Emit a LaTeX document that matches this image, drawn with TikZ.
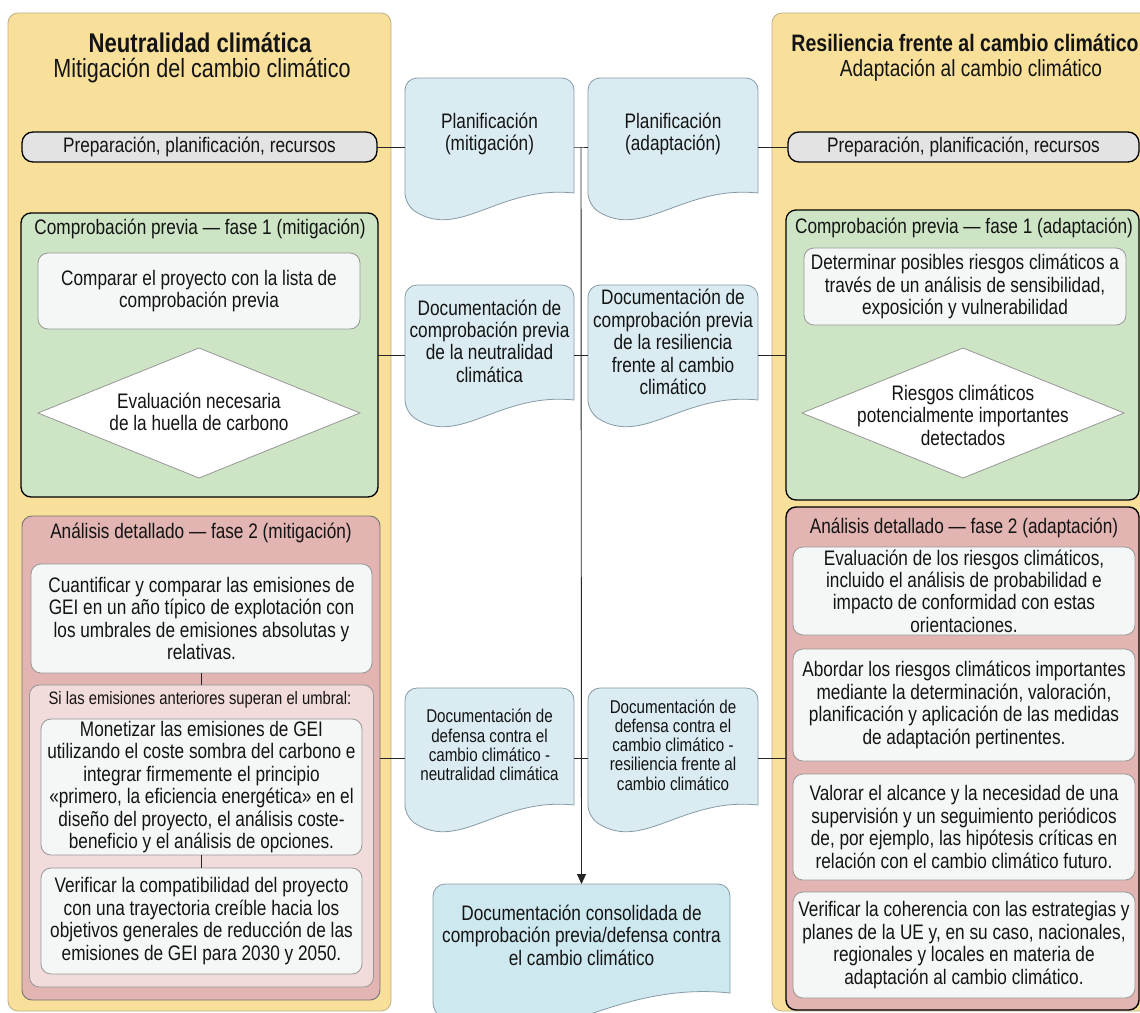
\documentclass[tikz,border=0pt]{standalone}
\usepackage{fontspec}
\setmainfont{Liberation Sans}[FakeStretch=0.82]
\usetikzlibrary{arrows.meta}
\definecolor{ylw}{RGB}{248,224,155}
\definecolor{ylwline}{RGB}{190,175,135}
\definecolor{pillgray}{RGB}{227,227,227}
\definecolor{grnfill}{RGB}{205,229,197}
\definecolor{whfill}{RGB}{245,247,247}
\definecolor{boxline}{RGB}{150,150,150}
\definecolor{redfill}{RGB}{226,180,178}
\definecolor{pinkfill}{RGB}{242,219,219}
\definecolor{docfill}{RGB}{218,236,242}
\definecolor{consfill}{RGB}{206,232,240}
\definecolor{doclinec}{RGB}{135,155,165}
\definecolor{txtc}{RGB}{20,20,20}
\newcommand\fbody{\fontsize{21}{22.4}\selectfont}
\newcommand\fsmall{\fontsize{18.5}{19.2}\selectfont}
\newcommand\fpink{\fontsize{18}{21}\selectfont}
\newcommand\ftitleL{\fontsize{27}{30}\selectfont\bfseries}
\newcommand\fsubL{\fontsize{26.3}{30}\selectfont}
\newcommand\ftitleR{\fontsize{23.8}{28}\selectfont\bfseries}
\newcommand\fsubR{\fontsize{23.3}{28}\selectfont}
\newcommand\docshape[7]{\filldraw[docst,fill=#2] (#1.south east) [rounded corners=12pt] -- (#1.north east) -- (#1.north west) -- ([yshift=-#3pt]#1.south west) [sharp corners] .. controls ([xshift=#4pt,yshift=-#5pt]#1.south west) and ([xshift=-#6pt,yshift=#7pt]#1.south east) .. (#1.south east) -- cycle;}
\tikzset{
  every node/.style={inner sep=0pt, outer sep=0pt, text=txtc},
  panel/.style={fill=ylw, draw=ylwline, line width=0.8pt, rounded corners=10pt},
  pill/.style={fill=pillgray, draw=black, line width=1.3pt, rounded corners=11pt, font=\fbody},
  grnbox/.style={fill=grnfill, draw=black, line width=1.3pt, rounded corners=10pt},
  redboxl/.style={fill=redfill, draw=black!55, line width=0.9pt, rounded corners=10pt},
  redboxr/.style={fill=redfill, draw=black, line width=1.4pt, rounded corners=10pt},
  pinkbox/.style={fill=pinkfill, draw=boxline, line width=0.8pt, rounded corners=10pt},
  wbox/.style={fill=whfill, draw=boxline, line width=0.8pt, rounded corners=10pt, align=center, font=\fbody},
  docbox/.style={draw=none, fill=none},
  docst/.style={draw=doclinec, line width=0.8pt},
  diast/.style={fill=white, draw=boxline, line width=0.8pt},
  lbl/.style={font=\fbody, align=center},
  slbl/.style={font=\fsmall, align=center},
  conn/.style={draw=black!85, line width=0.9pt},
}
\begin{document}
\begin{tikzpicture}[x=1pt,y=-1pt]
\useasboundingbox (0,0) rectangle (1140,1012);
\fill[white] (0,0) rectangle (1140,1012);
\clip (0,0) rectangle (1140,1012);

% ---------- left panel ----------
\node[panel, minimum width=383pt, minimum height=998pt] (panL) at (199.5,512) {};
\node[font=\ftitleL] (tL1) at (200,43) {Neutralidad climática};
\node[font=\fsubL] (tL2) at (202,71) {Mitigación del cambio climático};
\node[pill, minimum width=355pt, minimum height=30pt] (pillL) at (199.5,147) {Preparación, planificación, recursos};

\node[grnbox, minimum width=357pt, minimum height=284pt] (grnL) at (199.5,355) {};
\node[lbl] (grnLt) at (200,229) {Comprobación previa — fase 1 (mitigación)};
\node[wbox, minimum width=322pt, minimum height=76pt] (cmpL) at (199,291) {Comparar el proyecto con la lista de\\comprobación previa};
\node[docbox, minimum width=322pt, minimum height=130pt] (diaL) at (199,413) {};
\filldraw[diast] (diaL.north) -- (diaL.east) -- (diaL.south) -- (diaL.west) -- cycle;
\node[lbl] (diaLt) at (199,412) {Evaluación necesaria\\de la huella de carbono};

\node[redboxl, minimum width=358pt, minimum height=484pt] (redL) at (201,758) {};
\node[lbl] (redLt) at (201,533) {Análisis detallado — fase 2 (mitigación)};
\node[wbox, minimum width=341pt, minimum height=109pt] (cuaL) at (201.5,618.5) {Cuantificar y comparar las emisiones de\\GEI en un año típico de explotación con\\los umbrales de emisiones absolutas y\\relativas.};
\node[pinkbox, minimum width=344pt, minimum height=302pt] (pinkL) at (201.5,836) {};
\node[font=\fpink] (pinkLt) at (200,700) {Si las emisiones anteriores superan el umbral:};
\node[wbox, minimum width=321pt, minimum height=136pt] (monL) at (201.5,787) {Monetizar las emisiones de GEI\\utilizando el coste sombra del carbono e\\integrar firmemente el principio\\«primero, la eficiencia energética» en el\\diseño del proyecto, el análisis coste-\\beneficio y el análisis de opciones.};
\node[wbox, minimum width=321pt, minimum height=106pt] (verL) at (201.5,921) {Verificar la compatibilidad del proyecto\\con una trayectoria creíble hacia los\\objetivos generales de reducción de las\\emisiones de GEI para 2030 y 2050.};

% ---------- right panel ----------
\node[panel, minimum width=380pt, minimum height=998pt] (panR) at (962,512) {};
\node[font=\ftitleR] (tR1) at (965,43) {Resiliencia frente al cambio climático};
\node[font=\fsubR] (tR2) at (971,70) {Adaptación al cambio climático};
\node[pill, minimum width=351pt, minimum height=30pt] (pillR) at (963.5,147) {Preparación, planificación, recursos};

\node[grnbox, minimum width=353pt, minimum height=290pt] (grnR) at (962.5,355) {};
\node[lbl] (grnRt) at (964,228) {Comprobación previa — fase 1 (adaptación)};
\node[wbox, minimum width=322pt, minimum height=77pt] (detR) at (965,286.5) {Determinar posibles riesgos climáticos a\\través de un análisis de sensibilidad,\\exposición y vulnerabilidad};
\node[docbox, minimum width=322pt, minimum height=130pt] (diaR) at (963,413) {};
\filldraw[diast] (diaR.north) -- (diaR.east) -- (diaR.south) -- (diaR.west) -- cycle;
\node[lbl] (diaRt) at (963,415) {Riesgos climáticos\\potencialmente importantes\\detectados};

\node[redboxr, minimum width=353pt, minimum height=503pt] (redR) at (962.5,758.5) {};
\node[lbl] (redRt) at (964,528) {Análisis detallado — fase 2 (adaptación)};
\node[wbox, minimum width=342pt, minimum height=88pt] (b1R) at (964,591) {Evaluación de los riesgos climáticos,\\incluido el análisis de probabilidad e\\impacto de conformidad con estas\\orientaciones.};
\node[wbox, minimum width=342pt, minimum height=112pt] (b2R) at (964,705) {Abordar los riesgos climáticos importantes\\mediante la determinación, valoración,\\planificación y aplicación de las medidas\\de adaptación pertinentes.};
\node[wbox, minimum width=342pt, minimum height=106pt] (b3R) at (964,827) {Valorar el alcance y la necesidad de una\\supervisión y un seguimiento periódicos\\de, por ejemplo, las hipótesis críticas en\\relación con el cambio climático futuro.};
\node[wbox, minimum width=342pt, minimum height=106pt] (b4R) at (964,945) {Verificar la coherencia con las estrategias y\\planes de la UE y, en su caso, nacionales,\\regionales y locales en materia de\\adaptación al cambio climático.};

% ---------- middle documents ----------
\node[docbox, minimum width=169pt, minimum height=115pt] (docPM) at (489.5,135.5) {};
\docshape{docPM}{docfill}{12}{55}{47}{75}{8}
\node[lbl] (docPMt) at (489.5,134) {Planificación\\(mitigación)};
\node[docbox, minimum width=170pt, minimum height=115pt] (docPA) at (673,135.5) {};
\docshape{docPA}{docfill}{12}{55}{47}{75}{8}
\node[lbl] (docPAt) at (673,134) {Planificación\\(adaptación)};

\node[docbox, minimum width=169pt, minimum height=115pt] (docCM) at (489.5,342.5) {};
\docshape{docCM}{docfill}{12}{55}{47}{75}{8}
\node[lbl] (docCMt) at (489.5,341) {Documentación de\\comprobación previa\\de la neutralidad\\climática};
\node[docbox, minimum width=170pt, minimum height=115pt] (docCA) at (673,342.5) {};
\docshape{docCA}{docfill}{12}{55}{47}{75}{8}
\node[lbl] (docCAt) at (673,342) {Documentación de\\comprobación previa\\de la resiliencia\\frente al cambio\\climático};

\node[docbox, minimum width=169pt, minimum height=117pt] (docDM) at (489.5,746.5) {};
\docshape{docDM}{docfill}{12}{55}{47}{75}{8}
\node[slbl] (docDMt) at (489.5,745) {Documentación de\\defensa contra el\\cambio climático -\\neutralidad climática};
\node[docbox, minimum width=170pt, minimum height=117pt] (docDA) at (673,746.5) {};
\docshape{docDA}{docfill}{12}{55}{47}{75}{8}
\node[slbl] (docDAt) at (673,745) {Documentación de\\defensa contra el\\cambio climático -\\resiliencia frente al\\cambio climático};

\node[docbox, minimum width=297pt, minimum height=109pt] (cons) at (581.5,938.5) {};
\docshape{cons}{consfill}{21}{96}{80}{131}{14}
\node[lbl] (const) at (581.5,935) {Documentación consolidada de\\comprobación previa/defensa contra\\el cambio climático};

% ---------- connectors ----------
\coordinate (trunk) at (581,147);
\draw[conn] (pillL.east) -- (pillL.east -| docPM.west);
\draw[conn] (pillL.east -| docPM.east) -- (trunk) -- (pillL.east -| docPA.west);
\draw[conn] (pillR.west -| docPA.east) -- (pillR.west);
\draw[conn, -{Triangle[length=10pt,width=9pt]}] (trunk) -- (cons.north);

\draw[conn] (grnL.east) -- (grnL.east -| docCM.west);
\draw[conn] (grnL.east -| docCM.east) -- (grnL.east -| docCA.west);
\draw[conn] (grnR.west -| docCA.east) -- (grnR.west);

\draw[conn] (redL.east) -- (redL.east -| docDM.west);
\draw[conn] (redL.east -| docDM.east) -- (redL.east -| docDA.west);
\draw[conn] (redR.west -| docDA.east) -- (redR.west);

\draw[conn] (cuaL.south) -- (pinkL.north);
\draw[conn] (monL.south) -- (verL.north);
\end{tikzpicture}
\end{document}
